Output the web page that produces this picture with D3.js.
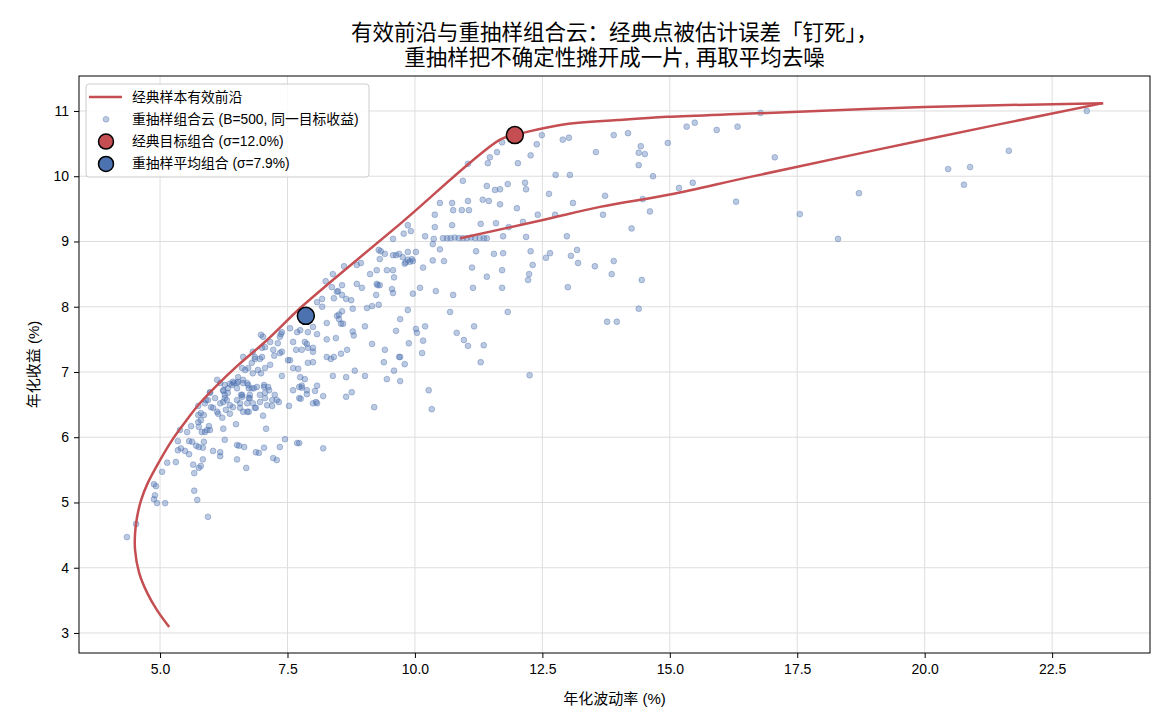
<!DOCTYPE html>
<html>
<head>
<meta charset="utf-8">
<script src="https://cdn.jsdelivr.net/npm/d3@7"></script>
<style>
  body { margin: 0; background: #fff; }
  svg text { font-family: "Liberation Sans", "Noto Sans CJK SC", sans-serif; fill: #000; }
</style>
</head>
<body>
<div id="chart"></div>
<script>
// classic frontier (vol %, return %)
// lower hyperbola + straight run up to the classic point
var frontierLowVol = [5.18, 4.94, 4.75, 4.59, 4.51, 4.51, 4.55, 4.63, 4.76, 5.00, 5.24, 5.49, 5.78, 6.12, 6.51, 7.10, 7.75, 8.39, 9.71, 11.67, 11.96];
var frontierLowRet = [3.09, 3.35, 3.61, 3.92, 4.27, 4.53, 4.78, 5.04, 5.30, 5.65, 5.96, 6.23, 6.52, 6.80, 7.09, 7.49, 7.98, 8.41, 9.27, 10.56, 10.63];
// flat upper branch out to the tip
var frontierTopVol = [11.96, 12.20, 12.98, 13.97, 14.95, 16.58, 20.00, 23.50];
var frontierTopRet = [10.63, 10.68, 10.80, 10.86, 10.91, 10.96, 11.06, 11.12];
// return branch back down
var frontierBackVol = [23.50, 20.00, 16.58, 15.00, 13.63, 12.51, 10.89];
var frontierBackRet = [11.12, 10.56, 9.99, 9.72, 9.53, 9.33, 9.05];

// resampled portfolios cloud (vol %, return %)
var cloud = [
  [15.92,10.71],[16.33,10.76],[16.78,10.97],[17.06,10.29],[16.30,9.61],[17.55,9.42],[18.30,9.04],[18.71,9.74],
  [20.46,10.11],[20.89,10.14],[20.77,9.87],[21.65,10.39],[23.18,11.0],
  [15.33,10.76],[15.49,10.82],[14.96,10.51],[13.90,10.63],[14.18,10.66],[14.43,10.46],[14.39,10.36],[14.51,10.34],
  [14.39,10.17],[14.67,10.0],[13.55,10.37],[12.90,10.56],[13.02,10.59],[12.49,10.63],[12.39,10.49],[12.27,10.32],
  [12.02,10.2],[11.61,10.37],[11.71,10.52],[11.47,10.29],[11.43,10.2],[11.04,10.19],[10.94,9.93],[12.76,10.02],
  [13.04,10.02],[12.63,9.73],[13.10,9.59],[13.73,9.70],[13.69,9.41],[15.18,9.82],[15.45,9.90],[14.47,9.65],
  [14.61,9.46],[14.25,9.20],[12.98,9.08],[12.75,9.41],[12.41,9.41],[12.18,9.07],[12.18,9.80],[12.16,9.90],
  [12.0,9.51],[12.12,9.30],[11.82,9.88],[11.67,9.80],[11.57,9.79],[11.41,9.85],[11.67,9.57],[11.45,9.62],
  [11.33,9.64],[11.04,9.62],[11.06,9.48],[10.92,9.48],[10.75,9.48],[10.73,9.59],[10.49,9.59],[10.39,9.41],
  [10.39,9.22],[10.73,9.25],[11.29,9.27],[11.59,9.28],[11.84,9.22],[11.73,9.08],[9.86,9.25],[9.78,9.12],
  [9.92,9.16],[10.2,9.08],[10.37,9.04],[10.35,8.96],
  [10.55,9.05],[10.63,9.05],[10.70,9.05],[10.78,9.06],[10.86,9.05],[10.94,9.05],[11.02,9.05],[11.10,9.06],
  [11.18,9.05],[11.27,9.05],[11.35,9.05],[11.41,9.05],
  [11.2,8.85],[11.55,8.81],[11.73,8.82],[12.27,8.85],[12.65,8.82],[12.57,8.75],[13.06,8.78],[13.18,8.87],
  [13.2,8.67],[13.53,8.62],[13.9,8.70],[13.86,8.50],[14.45,8.41],[13.0,8.30],[12.31,8.64],[12.24,8.50],
  [12.22,8.41],[11.71,8.56],[11.71,8.29],[11.41,8.46],[11.12,8.60],[11.14,8.29],[10.75,8.18],[10.41,8.24],
  [10.57,8.70],[10.49,8.88],[10.35,8.71],[10.16,8.60],[10.10,8.29],[9.96,8.20],[10.02,8.84],[9.86,8.84],
  [9.76,8.76],[9.86,8.72],[9.96,8.70],[9.82,8.68],
  [9.86,7.95],[10.69,7.92],[11.82,7.92],[14.39,7.97],[13.77,7.77],[13.96,7.77],[10.2,7.70],[10.02,7.66],
  [10.04,7.60],[10.82,7.60],[10.96,7.49],[11.04,7.40],[11.16,7.70],[11.35,7.41],[11.29,7.15],[10.16,7.48],
  [9.88,7.44],[10.14,7.29],[9.8,7.12],[9.71,6.86],[12.25,6.95],[10.27,6.72],[10.33,6.43],[9.71,7.23],[9.71,7.81],
  [8.57,8.33],[8.86,8.35],[8.96,8.29],[9.27,8.33],[9.31,8.33],[9.55,8.27],[9.57,8.21],[8.49,8.24],
  [8.57,8.18],[8.41,8.13],[8.65,8.12],[8.75,8.10],[9.24,8.18],[9.06,7.98],[9.16,8.01],[9.29,8.03],
  [8.78,7.97],[8.57,7.93],[8.47,7.86],[8.51,7.88],[8.55,7.74],[8.59,7.74],[9.02,7.70],[8.78,7.62],
  [8.80,7.56],[9.63,7.63],[8.45,7.52],[9.16,7.43],[9.41,7.34],[8.67,7.34],[8.55,7.28],[8.41,7.23],
  [9.69,7.23],[9.39,7.15],[8.82,7.02],[9.59,7.02],[8.39,6.94],[8.65,6.92],[9.02,6.94],[9.45,6.89],
  [8.76,6.69],[8.65,6.62],[9.20,6.46],
  [9.57,9.04],[9.29,8.87],[9.33,8.85],[9.41,8.81],[9.31,8.73],[9.57,8.79],[9.63,8.79],[9.69,8.81],
  [9.94,8.73],[9.80,8.66],[9.90,8.69],[8.61,8.62],[8.39,8.50],[8.86,8.64],[8.94,8.67],[9.12,8.50],
  [9.25,8.56],[9.45,8.56],[9.57,8.56],[9.59,8.45],[8.25,8.39],[9.25,8.35],
  [8.18,8.12],[8.37,8.30],[8.47,8.23],[8.0,7.69],[7.90,7.61],[8.27,7.75],[8.27,7.50],[8.51,7.81],
  [7.69,7.61],[7.75,7.64],[7.55,7.67],[7.39,7.61],[7.31,7.44],[7.16,7.46],[7.02,7.54],[6.98,7.57],
  [7.22,7.34],[7.35,7.29],[7.39,7.31],[7.51,7.18],[7.55,7.18],[7.24,7.25],[7.61,7.46],[7.67,7.34],
  [7.78,7.34],[7.90,7.37],[8.0,7.31],[8.0,7.37],[7.90,7.14],[8.0,7.15],[7.84,7.46],[7.88,7.43],
  [8.08,7.58],[8.27,7.23],[8.35,7.20],[7.61,7.06],[7.71,7.05],[7.75,6.92],[7.84,6.89],[7.39,6.94],
  [7.61,6.72],[7.78,6.79],[7.88,6.72],[8.08,6.79],[8.04,6.71],[8.20,6.63],[8.06,6.54],[7.73,6.60],
  [7.53,6.48],[7.33,6.54],[7.20,6.57],[6.96,7.20],[7.0,7.23],[6.86,7.20],[6.80,7.14],[6.73,7.06],
  [7.06,7.06],[7.16,7.11],[6.82,6.98],[6.92,7.03],[6.98,6.98],[6.61,7.06],[6.67,7.03],[6.53,6.92],
  [6.63,6.88],[6.43,6.85],[6.51,6.83],[6.73,6.80],[6.80,6.75],[6.90,6.77],[7.04,6.77],[7.12,6.77],
  [7.14,6.72],[6.96,6.65],[7.06,6.60],[6.74,6.60],[6.76,6.65],[6.61,6.65],[6.33,6.75],[6.41,6.80],
  [6.24,6.72],[6.27,6.65],[6.51,6.57],[6.57,6.52],[7.25,6.65],[7.29,6.57],[6.82,6.52],[6.96,6.54],
  [7.10,6.49],[7.20,6.48],[6.18,6.52],[6.24,6.54],[5.98,6.69],[6.08,6.60],[5.94,6.57],[5.88,6.52],
  [6.63,7.23],[6.82,7.31],[6.86,7.23],[7.0,7.37],[7.06,7.38],[7.35,7.54],[7.37,7.58],[8.08,8.07],[8.18,8.00],
  [5.94,4.78],[5.73,5.04],[5.67,5.18],[5.10,4.99],[4.94,4.99],[4.88,5.05],[4.90,5.11],[4.88,5.28],
  [4.92,5.25],[4.53,4.67],[4.35,4.47],[5.04,5.47],[5.14,5.61],[5.31,5.62],[5.67,5.45],[5.76,5.53],
  [5.80,5.56],[5.84,5.66],[5.65,5.58],[5.35,5.80],[5.41,5.83],[5.49,5.79],[5.57,5.74],[5.35,5.94],
  [5.57,5.94],[5.63,5.93],[5.71,5.87],[5.76,5.85],[5.86,5.93],[5.84,5.84],[6.04,5.79],[6.18,5.77],
  [6.18,5.71],[6.27,5.96],[6.51,5.66],[6.51,5.88],[6.55,5.87],[6.65,5.85],[6.69,5.53],[6.88,5.77],
  [6.94,5.76],[7.04,5.84],[7.08,6.13],[7.02,6.33],[6.86,6.45],[6.24,6.13],[6.49,6.20],[5.39,6.11],
  [5.53,6.08],[5.61,6.17],[5.75,6.23],[5.80,6.26],[5.76,6.16],[5.82,6.08],[5.88,6.08],[5.92,6.11],
  [5.96,6.17],[5.98,6.11],[5.75,6.34],[5.80,6.37],[5.86,6.34],[5.75,6.48],[5.90,6.57],[6.0,6.46],
  [6.04,6.45],[5.98,6.68],[6.12,6.39],[6.14,6.36],[6.22,6.30],[6.29,6.42],[6.37,6.36],[6.27,6.60],
  [6.31,6.57],[6.24,6.71],[6.33,6.68],[6.37,6.49],[6.43,6.46],[6.27,6.80],[6.37,6.82],[6.45,6.83],
  [6.53,6.85],[6.63,6.83],[6.51,6.75],[6.59,6.65],[6.61,6.62],[6.57,6.45],[6.63,6.39],[6.71,6.39],
  [6.74,6.39],[6.71,6.52],[6.76,6.60],[6.74,6.75],[6.84,6.75],[6.71,6.83],[7.04,6.80],[7.06,6.68],
  [6.88,6.45],[6.12,6.88],[6.18,6.83],
  [7.45,5.97],[7.69,5.91],[7.73,5.91],[8.20,5.83],[7.35,5.85],[7.22,5.68],[7.29,5.65],[8.0,6.52],
  [8.08,6.52],[7.76,6.59],[7.88,6.66],[7.73,6.77],[7.78,6.76]
];

var classicPt = [11.96, 10.63];
var resampPt = [7.86, 7.86];

var xTicks = [5.0, 7.5, 10.0, 12.5, 15.0, 17.5, 20.0, 22.5];
var yTicks = [3, 4, 5, 6, 7, 8, 9, 10, 11];
var titleLines = ["有效前沿与重抽样组合云：经典点被估计误差「钉死」，", "重抽样把不确定性摊开成一片, 再取平均去噪"];
var xLabel = "年化波动率 (%)";
var yLabel = "年化收益 (%)";
var legendLabels = ["经典样本有效前沿", "重抽样组合云 (B=500, 同一目标收益)", "经典目标组合 (σ=12.0%)", "重抽样平均组合 (σ=7.9%)"];

var red = "#c44e52", blue = "#4c72b0";

// set the dimensions and margins of the graph
var margin = {top: 76, right: 20, bottom: 75, left: 79},
    W = 1170, H = 728,
    width_ = W - margin.left - margin.right,
    height_ = H - margin.top - margin.bottom;

var svgRoot = d3.select("#chart").append("svg")
    .attr("width", W)
    .attr("height", H);
svgRoot.append("rect").attr("width", W).attr("height", H).attr("fill", "#fff");

var svg = svgRoot.append("g")
    .attr("transform", "translate(" + margin.left + "," + margin.top + ")");

var x = d3.scaleLinear().domain([3.41, 24.42]).range([0, width_]);
var y = d3.scaleLinear().domain([2.693, 11.536]).range([height_, 0]);

// grid
svg.append("g").selectAll("line").data(xTicks).enter().append("line")
    .attr("x1", function(d) { return x(d); }).attr("x2", function(d) { return x(d); })
    .attr("y1", 0).attr("y2", height_)
    .attr("stroke", "#dedede").attr("stroke-width", 1);
svg.append("g").selectAll("line").data(yTicks).enter().append("line")
    .attr("y1", function(d) { return y(d); }).attr("y2", function(d) { return y(d); })
    .attr("x1", 0).attr("x2", width_)
    .attr("stroke", "#dedede").attr("stroke-width", 1);

// cloud
svg.append("g").selectAll("circle").data(cloud).enter().append("circle")
    .attr("cx", function(d) { return x(d[0]); })
    .attr("cy", function(d) { return y(d[1]); })
    .attr("r", 2.9)
    .attr("fill", blue).attr("fill-opacity", 0.38)
    .attr("stroke", blue).attr("stroke-opacity", 0.38).attr("stroke-width", 1);

// frontier: three pieces so the kink at the classic point and the tip stay sharp
var pairs = function(vs, rs) { return vs.map(function(v, i) { return [v, rs[i]]; }); };
var smooth = d3.line().curve(d3.curveCatmullRom.alpha(0.5))
    .x(function(d) { return x(d[0]); }).y(function(d) { return y(d[1]); });
var frontierG = svg.append("g").attr("fill", "none").attr("stroke", red)
    .attr("stroke-width", 2.5).attr("stroke-linejoin", "round");
frontierG.append("path").attr("d", smooth(pairs(frontierLowVol, frontierLowRet)));
frontierG.append("path").attr("d", smooth(pairs(frontierTopVol, frontierTopRet)));
frontierG.append("path").attr("d", smooth(pairs(frontierBackVol, frontierBackRet)));

// the two highlighted portfolios
svg.append("circle").attr("cx", x(classicPt[0])).attr("cy", y(classicPt[1])).attr("r", 8.5)
    .attr("fill", red).attr("stroke", "#000").attr("stroke-width", 1.5);
svg.append("circle").attr("cx", x(resampPt[0])).attr("cy", y(resampPt[1])).attr("r", 8.5)
    .attr("fill", blue).attr("stroke", "#000").attr("stroke-width", 1.5);

// axes
var xAxis = svg.append("g").attr("transform", "translate(0," + height_ + ")")
    .call(d3.axisBottom(x).tickValues(xTicks).tickFormat(d3.format(".1f")).tickSize(5).tickPadding(6));
var yAxis = svg.append("g")
    .call(d3.axisLeft(y).tickValues(yTicks).tickFormat(d3.format("d")).tickSize(5).tickPadding(5));
[xAxis, yAxis].forEach(function(a) {
  a.select(".domain").remove();
  a.selectAll("text").attr("font-size", 14).attr("fill", "#000")
    .style("font-family", '"Liberation Sans", "Noto Sans CJK SC", sans-serif');
  a.selectAll("line").attr("stroke", "#000");
});

// frame
svg.append("rect").attr("width", width_).attr("height", height_)
    .attr("fill", "none").attr("stroke", "#000").attr("stroke-width", 1);

// axis labels
svg.append("text")
    .attr("x", width_ / 2).attr("y", height_ + 45)
    .attr("text-anchor", "middle").attr("dominant-baseline", "central")
    .attr("font-size", 15).text(xLabel);
svg.append("text")
    .attr("transform", "translate(-46," + (height_ / 2) + ") rotate(-90)")
    .attr("text-anchor", "middle").attr("dominant-baseline", "central")
    .attr("font-size", 15).text(yLabel);

// title
svgRoot.selectAll("text.title").data(titleLines).enter().append("text")
    .attr("class", "title")
    .attr("x", margin.left + width_ / 2)
    .attr("y", function(d, i) { return 33 + i * 25; })
    .attr("text-anchor", "middle").attr("dominant-baseline", "central")
    .attr("font-size", 21.5)
    .text(function(d) { return d; });

// LEGEND
var lg = svg.append("g").attr("transform", "translate(7,8)");
lg.append("rect").attr("width", 283).attr("height", 93).attr("rx", 3)
    .attr("fill", "#fff").attr("fill-opacity", 0.85)
    .attr("stroke", "#cccccc").attr("stroke-width", 1);
var rowY = function(i) { return 13 + i * 22.3; };
lg.append("line").attr("x1", 3).attr("x2", 36).attr("y1", rowY(0)).attr("y2", rowY(0))
    .attr("stroke", red).attr("stroke-width", 2.5);
lg.append("circle").attr("cx", 20).attr("cy", rowY(1)).attr("r", 2.9)
    .attr("fill", blue).attr("fill-opacity", 0.38)
    .attr("stroke", blue).attr("stroke-opacity", 0.38);
lg.append("circle").attr("cx", 20).attr("cy", rowY(2)).attr("r", 7.5)
    .attr("fill", red).attr("stroke", "#000").attr("stroke-width", 1.5);
lg.append("circle").attr("cx", 20).attr("cy", rowY(3)).attr("r", 7.5)
    .attr("fill", blue).attr("stroke", "#000").attr("stroke-width", 1.5);
lg.selectAll("text").data(legendLabels).enter().append("text")
    .attr("x", 46).attr("y", function(d, i) { return rowY(i); })
    .attr("dominant-baseline", "central")
    .attr("font-size", 13.8)
    .text(function(d) { return d; });
</script>
</body>
</html>
